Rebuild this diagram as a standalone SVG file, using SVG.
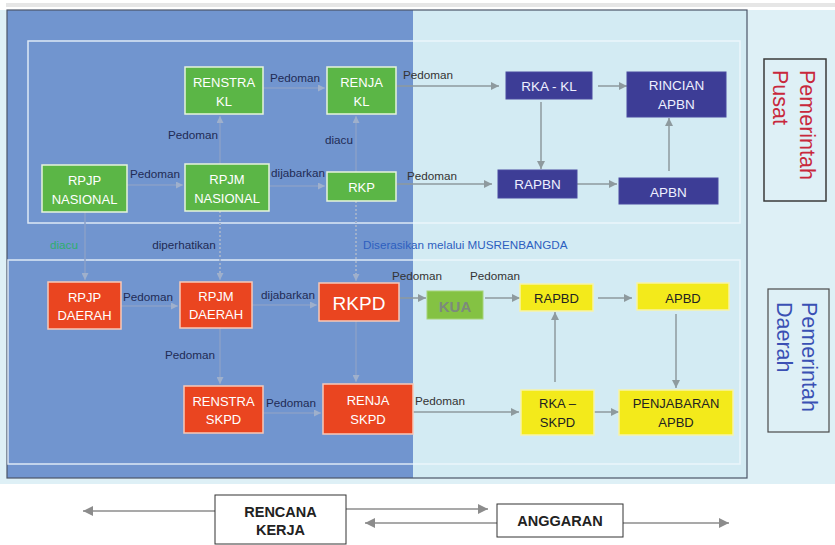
<svg xmlns="http://www.w3.org/2000/svg" width="835" height="545" viewBox="0 0 835 545">
<defs>
<style>
.n text{font-family:"Liberation Sans",Arial,sans-serif;font-size:13px;text-anchor:middle}
.g rect{fill:#5bb646;stroke:#e6f4dc;stroke-width:1.5}
.r rect{fill:#ea4520;stroke:#f7c9b8;stroke-width:1.5}
.b rect{fill:#3d3d96;stroke:#4a4aa0;stroke-width:1}
.y rect{fill:#f3ea1b;stroke:#f7f3a8;stroke-width:1.5}
.g text,.r text{fill:#ffffff}
.b text{fill:#eef0ff;font-size:13.5px}
.y text{fill:#222222}
.lbl{font-family:"Liberation Sans",Arial,sans-serif;font-size:11.7px;text-anchor:middle}
.dk{fill:#1f2b55}
.gr{fill:#333333}
.fc{stroke:#8aa1c8;stroke-width:1.5;fill:none}
.dot{stroke:#9fb0cc;stroke-width:2;stroke-dasharray:2 2;fill:none}
.rc{stroke:#8e9a9e;stroke-width:1.5;fill:none}
.bc{stroke:#8c8c8c;stroke-width:1.5;fill:none}
.side{font-family:"Liberation Sans",Arial,sans-serif;font-size:21.5px}
.bt{font-family:"Liberation Sans",Arial,sans-serif;font-weight:bold;font-size:14.5px;fill:#222;text-anchor:middle}
</style>
<marker id="af" viewBox="0 0 10 10" refX="10" refY="5" markerWidth="7" markerHeight="7" markerUnits="userSpaceOnUse" orient="auto"><path d="M0,0L10,5L0,10z" fill="#9fb0cc"/></marker>
<marker id="ar" viewBox="0 0 10 10" refX="10" refY="5" markerWidth="8" markerHeight="8" markerUnits="userSpaceOnUse" orient="auto"><path d="M0,0L10,5L0,10z" fill="#8e9a9e"/></marker>
<marker id="ab" viewBox="0 0 10 10" refX="10" refY="5" markerWidth="11" markerHeight="10" markerUnits="userSpaceOnUse" orient="auto"><path d="M0,0L10,5L0,10z" fill="#8c8c8c"/></marker>
</defs>
<rect width="835" height="545" fill="#ffffff"/>
<rect x="6" y="3" width="829" height="4" fill="#e6e6e6"/>
<g id="background">
<rect x="0" y="10" width="835" height="474" fill="#def0f6"/>
<rect x="413" y="10" width="334" height="468" fill="#d3ebf3"/>
<rect x="7" y="10" width="406" height="468" fill="#7195cf"/>
<rect x="7" y="10" width="740" height="468" fill="none" stroke="#4b5568" stroke-width="1.2"/>
<rect x="28" y="41" width="712" height="182" fill="none" stroke="#eef7fb" stroke-opacity="0.85" stroke-width="1.5"/>
<rect x="8" y="260" width="732" height="204" fill="none" stroke="#eef7fb" stroke-opacity="0.85" stroke-width="1.5"/>
</g>
<g id="connectors">
<path class="fc" d="M263,88H325" marker-end="url(#af)"/>
<path class="fc" d="M220,164V116" marker-end="url(#af)"/>
<path class="fc" d="M356,172V116" marker-end="url(#af)"/>
<path class="fc" d="M127,185H183" marker-end="url(#af)"/>
<path class="fc" d="M269,186H325" marker-end="url(#af)"/>
<path class="fc" d="M85,212V280" marker-end="url(#af)"/>
<path class="dot" d="M220,211V273"/>
<path class="fc" d="M220,273V280" marker-end="url(#af)"/>
<path class="dot" d="M356,201V274"/>
<path class="fc" d="M356,274V281" marker-end="url(#af)"/>
<path class="fc" d="M121,306H178" marker-end="url(#af)"/>
<path class="fc" d="M252,305H317" marker-end="url(#af)"/>
<path class="fc" d="M220,328V384" marker-end="url(#af)"/>
<path class="fc" d="M356,321V382" marker-end="url(#af)"/>
<path class="fc" d="M263,413H321" marker-end="url(#af)"/>
<path class="rc" d="M396,86H499" marker-end="url(#ar)"/>
<path class="rc" d="M598,86H627" marker-end="url(#ar)"/>
<path class="rc" d="M541,102V169" marker-end="url(#ar)"/>
<path class="rc" d="M396,184H492" marker-end="url(#ar)"/>
<path class="rc" d="M577,184H617" marker-end="url(#ar)"/>
<path class="rc" d="M669,171V118" marker-end="url(#ar)"/>
<path class="rc" d="M399,298H426" marker-end="url(#ar)"/>
<path class="rc" d="M485,298H520" marker-end="url(#ar)"/>
<path class="rc" d="M598,298H632" marker-end="url(#ar)"/>
<path class="rc" d="M676,314V388" marker-end="url(#ar)"/>
<path class="rc" d="M555,382V312" marker-end="url(#ar)"/>
<path class="rc" d="M413,412H519" marker-end="url(#ar)"/>
<path class="rc" d="M594,412H619" marker-end="url(#ar)"/>
<path class="bc" d="M215,511H83" marker-end="url(#ab)"/>
<path class="bc" d="M346,509H488" marker-end="url(#ab)"/>
<path class="bc" d="M497,523H365" marker-end="url(#ab)"/>
<path class="bc" d="M623,523H729" marker-end="url(#ab)"/>
</g>
<g id="labels">
<text class="lbl dk" x="295" y="82">Pedoman</text>
<text class="lbl dk" x="193" y="139">Pedoman</text>
<text class="lbl dk" x="339" y="144">diacu</text>
<text class="lbl dk" x="155" y="178">Pedoman</text>
<text class="lbl dk" x="298" y="177">dijabarkan</text>
<text class="lbl gr" x="428" y="79">Pedoman</text>
<text class="lbl gr" x="432" y="180">Pedoman</text>
<text class="lbl" x="64" y="249" fill="#2fae6e">diacu</text>
<text class="lbl dk" x="184" y="249">diperhatikan</text>
<text class="lbl" x="363" y="249" fill="#2d5fbf" style="text-anchor:start">Diserasikan melalui MUSRENBANGDA</text>
<text class="lbl dk" x="148" y="301">Pedoman</text>
<text class="lbl dk" x="288" y="299">dijabarkan</text>
<text class="lbl dk" x="190" y="359">Pedoman</text>
<text class="lbl dk" x="291" y="407">Pedoman</text>
<text class="lbl gr" x="417" y="280">Pedoman</text>
<text class="lbl gr" x="495" y="280">Pedoman</text>
<text class="lbl gr" x="440" y="405">Pedoman</text>
</g>
<g id="renstra-kl" class="n g"><rect x="185" y="67" width="78" height="47"/><text x="224" y="87">RENSTRA</text><text x="224" y="106">KL</text></g>
<g id="renja-kl" class="n g"><rect x="327" y="67" width="69" height="47"/><text x="361.5" y="87">RENJA</text><text x="361.5" y="106">KL</text></g>
<g id="rpjp-nasional" class="n g"><rect x="42" y="165" width="85" height="47"/><text x="84.5" y="185">RPJP</text><text x="84.5" y="204">NASIONAL</text></g>
<g id="rpjm-nasional" class="n g"><rect x="185" y="164" width="84" height="47"/><text x="227" y="184">RPJM</text><text x="227" y="203">NASIONAL</text></g>
<g id="rkp" class="n g"><rect x="327" y="172" width="69" height="29"/><text x="361.5" y="192">RKP</text></g>
<g id="rka-kl" class="n b"><rect x="506" y="72" width="86" height="27"/><text x="549" y="91">RKA - KL</text></g>
<g id="rincian-apbn" class="n b"><rect x="627" y="72" width="99" height="45"/><text x="676.5" y="90">RINCIAN</text><text x="676.5" y="109">APBN</text></g>
<g id="rapbn" class="n b"><rect x="498" y="170" width="79" height="28"/><text x="537.5" y="189">RAPBN</text></g>
<g id="apbn" class="n b"><rect x="619" y="178" width="99" height="26"/><text x="668.5" y="197">APBN</text></g>
<g id="rpjp-daerah" class="n r"><rect x="48" y="282" width="73" height="47"/><text x="84.5" y="302">RPJP</text><text x="84.5" y="320">DAERAH</text></g>
<g id="rpjm-daerah" class="n r"><rect x="180" y="282" width="72" height="46"/><text x="216" y="301">RPJM</text><text x="216" y="319">DAERAH</text></g>
<g id="rkpd" class="n r"><rect x="319" y="283" width="80" height="38"/><text x="359" y="310" style="font-size:19px">RKPD</text></g>
<g id="renstra-skpd" class="n r"><rect x="184" y="386" width="79" height="47"/><text x="223.5" y="406">RENSTRA</text><text x="223.5" y="424">SKPD</text></g>
<g id="renja-skpd" class="n r"><rect x="323" y="384" width="90" height="50"/><text x="368" y="405">RENJA</text><text x="368" y="424">SKPD</text></g>
<g id="kua" class="n"><rect x="427" y="291" width="56" height="28" fill="#84c243" stroke="#a6d47a" stroke-width="1"/><text x="455" y="312" fill="#7c8a7c" style="font-weight:bold;font-size:15px">KUA</text></g>
<g id="rapbd" class="n y"><rect x="520" y="284" width="73" height="27"/><text x="556.5" y="303">RAPBD</text></g>
<g id="apbd" class="n y"><rect x="637" y="283" width="92" height="27"/><text x="683" y="303">APBD</text></g>
<g id="rka-skpd" class="n y"><rect x="521" y="390" width="73" height="45"/><text x="557.5" y="408">RKA –</text><text x="557.5" y="427">SKPD</text></g>
<g id="penjabaran-apbd" class="n y"><rect x="619" y="390" width="114" height="45"/><text x="676" y="408">PENJABARAN</text><text x="676" y="427">APBD</text></g>
<g id="pemerintah-pusat"><rect x="764" y="59" width="62" height="142" fill="none" stroke="#3a3a3a" stroke-width="1.5"/><text class="side" fill="#c8283c" transform="translate(800,70) rotate(90)">Pemerintah</text><text class="side" fill="#c8283c" transform="translate(773,70) rotate(90)">Pusat</text></g>
<g id="pemerintah-daerah"><rect x="768" y="289" width="61" height="143" fill="none" stroke="#4a4a4a" stroke-width="1.2"/><text class="side" fill="#3a50b4" transform="translate(802,302) rotate(90)">Pemerintah</text><text class="side" fill="#3a50b4" transform="translate(777,302) rotate(90)">Daerah</text></g>
<g id="rencana-kerja"><rect x="215" y="495" width="131" height="49" fill="#ffffff" stroke="#333" stroke-width="1"/><text class="bt" x="280.5" y="517">RENCANA</text><text class="bt" x="280.5" y="535">KERJA</text></g>
<g id="anggaran"><rect x="497" y="504" width="126" height="33" fill="#ffffff" stroke="#333" stroke-width="1"/><text class="bt" x="560" y="526">ANGGARAN</text></g>
</svg>
